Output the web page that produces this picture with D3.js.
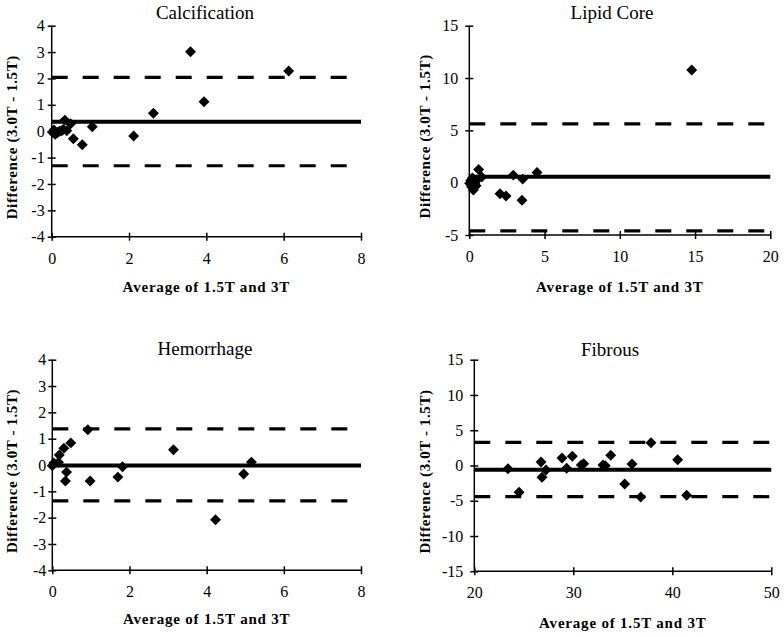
<!DOCTYPE html>
<html><head><meta charset="utf-8">
<script src="https://cdn.jsdelivr.net/npm/d3@7"></script>
<style>body{margin:0;background:#fff}svg{display:block}</style>
</head><body>
<svg id="chart" width="784" height="637"></svg>
<script>
// ---- data ----
const calcX = [0.02,0.06,0.09,0.15,0.20,0.26,0.30,0.34,0.39,0.49,0.56,0.79,1.05,2.12,2.63,3.59,3.94,6.13];
const calcY = [-0.04,0.05,-0.12,-0.05,0.00,0.02,0.07,0.42,0.02,0.28,-0.29,-0.51,0.17,-0.18,0.68,3.01,1.12,2.28];
const calcStats = [0.36, 2.04, -1.31];

const lipidX = [0.02,0.10,0.15,0.20,0.27,0.30,0.36,0.45,0.50,0.62,0.82,2.04,2.44,2.92,3.50,3.55,4.50,14.78];
const lipidY = [-0.06,0.20,-0.40,0.45,-0.70,0.30,-0.05,-0.30,0.26,1.25,0.55,-1.05,-1.27,0.72,-1.68,0.34,0.97,10.76];
const lipidStats = [0.57, 5.61, -4.61];

const hemX = [0.00,0.04,0.16,0.18,0.30,0.34,0.37,0.48,0.92,0.98,1.70,1.82,3.14,4.23,4.96,5.16];
const hemY = [-0.03,0.08,0.10,0.38,0.64,-0.61,-0.27,0.84,1.34,-0.61,-0.46,-0.07,0.58,-2.08,-0.34,0.11];
const hemStats = [-0.02, 1.37, -1.36];

const fibX = [23.40,24.52,26.74,26.84,27.24,28.86,29.33,29.90,30.81,31.05,33.00,33.23,33.78,35.19,35.93,36.81,37.85,40.54,41.45];
const fibY = [-0.45,-3.80,0.50,-1.67,-0.64,1.06,-0.40,1.30,0.07,0.26,0.07,-0.02,1.44,-2.62,0.21,-4.46,3.23,0.82,-4.23];
const fibStats = [-0.59, 3.28, -4.42];

const titles = ["Calcification","Lipid Core","Hemorrhage","Fibrous"];
const xTickSets = [[0,2,4,6,8],[0,5,10,15,20],[0,2,4,6,8],[20,30,40,50]];
const yTickSets = [[-4,-3,-2,-1,0,1,2,3,4],[-5,0,5,10,15],[-4,-3,-2,-1,0,1,2,3,4],[-15,-10,-5,0,5,10,15]];
const xLabel = "Average of 1.5T and 3T";
const yLabel = "Difference (3.0T - 1.5T)";

// ---- layout ----
const layout = [
  {l:51.7, r:361, t:25.7, b:236.7, tx:205, ty:19, ylx:12, yLabGap:7, xLabDy:55},
  {l:469.3, r:770.3, t:25.7, b:235, tx:612, ty:19, ylx:425, yLabGap:11, xLabDy:57},
  {l:52.3, r:361, t:359.7, b:570.3, tx:205, ty:355, ylx:12, yLabGap:6, xLabDy:54},
  {l:474.3, r:771.3, t:359.7, b:571.3, tx:610, ty:356, ylx:425, yLabGap:11, xLabDy:57}
];
const series = [[calcX,calcY,calcStats],[lipidX,lipidY,lipidStats],[hemX,hemY,hemStats],[fibX,fibY,fibStats]];

const svg = d3.select("#chart");
const font = "'Liberation Serif','Times New Roman',serif";
const diamond = d3.symbol().type(d3.symbolSquare).size(60);

series.forEach(([xs, ys, stats], i) => {
  const L = layout[i];
  const xt = xTickSets[i], yt = yTickSets[i];
  const x = d3.scaleLinear().domain([xt[0], xt[xt.length-1]]).range([L.l, L.r]);
  const y = d3.scaleLinear().domain([yt[0], yt[yt.length-1]]).range([L.b, L.t]);
  const g = svg.append("g");

  // limits lines
  [stats[1], stats[2]].forEach(v => {
    g.append("line").attr("x1", x.range()[0]).attr("x2", x.range()[1])
      .attr("y1", y(v)).attr("y2", y(v))
      .attr("stroke", "#000").attr("stroke-width", 3.2).attr("stroke-dasharray", "16,15");
  });
  g.append("line").attr("x1", x.range()[0]).attr("x2", x.range()[1])
    .attr("y1", y(stats[0])).attr("y2", y(stats[0]))
    .attr("stroke", "#000").attr("stroke-width", 4);

  // axes
  const xa = g.append("g").attr("transform", `translate(0,${L.b})`)
    .call(d3.axisBottom(x).tickValues(xt).tickFormat(d => String(d)).tickSize(4).tickPadding(0));
  xa.selectAll(".tick line").attr("y1", -4).attr("y2", 4).attr("stroke-width", 1.5);
  xa.selectAll(".tick text").attr("y", null).attr("dy", null).attr("transform", `translate(0,27)`)
    .attr("font-family", font).attr("font-size", 16).attr("fill", "#000");
  xa.select(".domain").attr("stroke-width", 1.5).attr("d", `M${L.l},0H${L.r}`);

  const ya = g.append("g").attr("transform", `translate(${L.l},0)`)
    .call(d3.axisLeft(y).tickValues(yt).tickFormat(d => String(d)).tickSize(4).tickPadding(L.yLabGap));
  ya.selectAll(".tick line").attr("x1", -4).attr("x2", 4).attr("stroke-width", 1.5);
  ya.selectAll(".tick text").attr("x", -L.yLabGap)
    .attr("font-family", font).attr("font-size", 16).attr("fill", "#000");
  ya.select(".domain").attr("stroke-width", 1.5).attr("d", `M0,${L.t}V${L.b}`);

  // points
  g.append("g").selectAll("path").data(xs.map((v, k) => [v, ys[k]])).join("path")
    .attr("d", diamond)
    .attr("transform", d => `translate(${x(d[0])},${y(d[1])}) rotate(45)`)
    .attr("fill", "#000");

  // titles
  g.append("text").attr("x", L.tx).attr("y", L.ty).attr("text-anchor", "middle")
    .attr("font-family", font).attr("font-size", 19).text(titles[i]);
  g.append("text").attr("x", (L.l + L.r) / 2).attr("y", L.b + L.xLabDy).attr("text-anchor", "middle")
    .attr("font-family", font).attr("font-size", 15).attr("font-weight", "bold")
    .attr("letter-spacing", 0.8).text(xLabel);
  g.append("text").attr("transform", `translate(${L.ylx + 5},${(L.t + L.b) / 2 + 6}) rotate(-90)`)
    .attr("text-anchor", "middle")
    .attr("font-family", font).attr("font-size", 15).attr("font-weight", "bold")
    .attr("letter-spacing", 0.6).text(yLabel);
});
</script>
</body></html>
